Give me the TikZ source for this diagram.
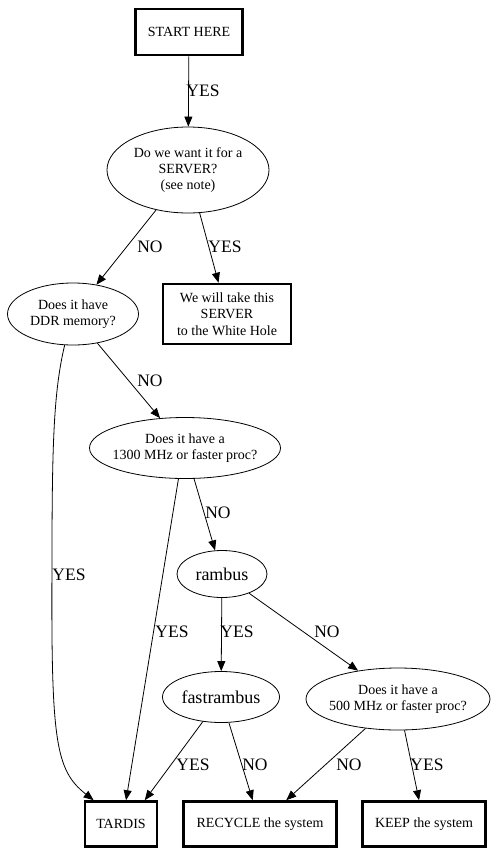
\documentclass[tikz,border=0pt]{standalone}
\usepackage{fontspec}
\setmainfont{Liberation Serif}
\usetikzlibrary{shapes.geometric,arrows.meta}

\tikzset{
  box/.style={draw, rectangle, line width=2.6pt, inner sep=0pt, align=center,
    font=\fontsize{14}{16.5}\selectfont},
  oval/.style={draw, ellipse, line width=0.8pt, inner sep=0pt, align=center,
    font=\fontsize{14}{16}\selectfont},
  bigoval/.style={oval, font=\fontsize{18}{20}\selectfont},
  lab/.style={inner sep=0pt, font=\fontsize{17.5}{20}\selectfont},
  arr/.style={line width=0.8pt, -{Triangle[length=10pt,width=8pt]}}
}

\begin{document}
\begin{tikzpicture}[x=1pt, y=-1pt]
\useasboundingbox (0,0) rectangle (495,855);

\node [box, minimum width=107pt, minimum height=46pt] (start) at (189,32) {START HERE};
\node [oval, minimum width=162pt, minimum height=86pt] (server) at (188,170) {Do we want it for a\\SERVER?\\(see note)};
\node [oval, minimum width=131pt, minimum height=62pt] (ddr) at (73,314) {Does it have\\DDR memory?};
\node [box, minimum width=128pt, minimum height=60pt] (hole) at (227,314) {We will take this\\SERVER\\to the White Hole};
\node [oval, inner xsep=-8pt, minimum width=191pt, minimum height=61pt] (p1300) at (185,448) {Does it have a\\1300 MHz or faster proc?};
\node [bigoval, minimum width=90pt, minimum height=47pt] (rambus) at (222,574) {rambus};
\node [bigoval, minimum width=117pt, minimum height=51pt] (fast) at (221,697) {fastrambus};
\node [oval, inner xsep=-7pt, minimum width=184pt, minimum height=62pt] (p500) at (398,699) {Does it have a\\500 MHz or faster proc?};
\node [box, minimum width=72pt, minimum height=45pt] (tardis) at (121,824) {TARDIS};
\node [box, minimum width=153pt, minimum height=45pt] (recycle) at (260,824) {RECYCLE the system};
\node [box, minimum width=123pt, minimum height=45pt] (keep) at (424,824) {KEEP the system};

\node [lab] (l1) at (203,91) {YES};
\node [lab] (l2) at (150,247) {NO};
\node [lab] (l3) at (225,247) {YES};
\node [lab] (l4) at (150,381) {NO};
\node [lab] (l5) at (69,575) {YES};
\node [lab] (l6) at (218,513) {NO};
\node [lab] (l7) at (172,632) {YES};
\node [lab] (l8) at (237,632) {YES};
\node [lab] (l9) at (327,632) {NO};
\node [lab] (l10) at (193,765) {YES};
\node [lab] (l11) at (255,765) {NO};
\node [lab] (l12) at (349,765) {NO};
\node [lab] (l13) at (427,765) {YES};

\draw [arr] (start) edge (server);
\draw [arr] (server) edge (ddr);
\draw [arr] (server) edge (hole);
\draw [arr] (ddr) edge (p1300);
\draw [arr] (ddr.-105) .. controls (54,390) and (52,440) .. (52,560)
  .. controls (51,740) and (55,770) .. (tardis.139);
\draw [arr] (p1300.-102) -- (tardis.78);
\draw [arr] (p1300) edge (rambus);
\draw [arr] (rambus) edge (fast);
\draw [arr] (rambus) edge (p500);
\draw [arr] (fast) -- (tardis.45);
\draw [arr] (fast) edge (recycle);
\draw [arr] (p500) edge (recycle);
\draw [arr] (p500) edge (keep);
\end{tikzpicture}
\end{document}
